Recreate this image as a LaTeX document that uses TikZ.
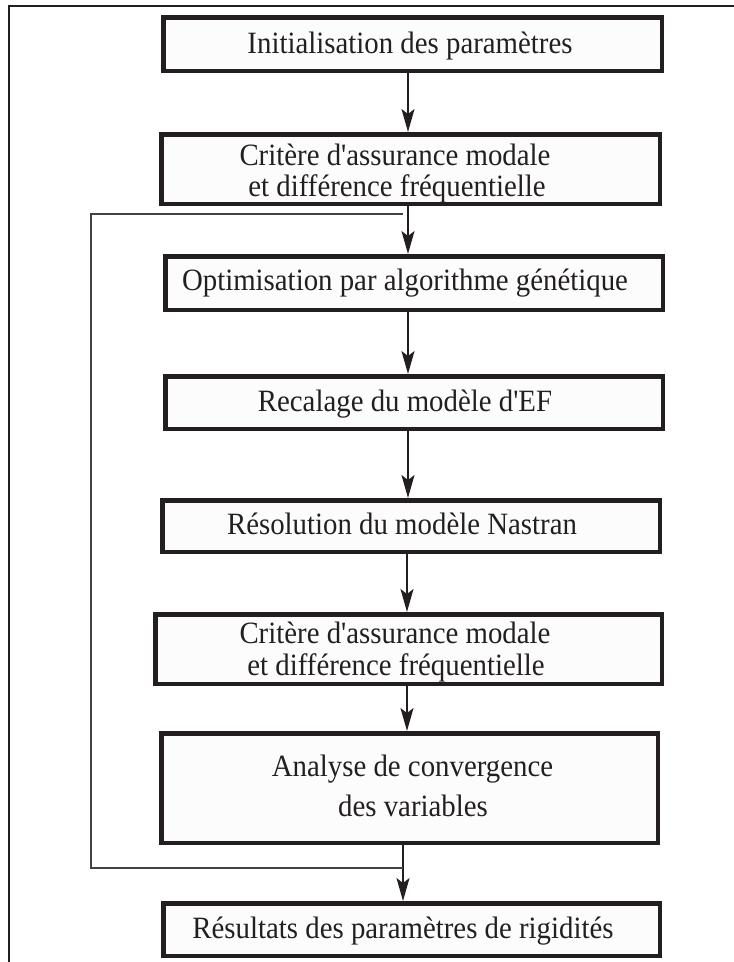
\documentclass[tikz,border=0pt]{standalone}
\usepackage{fontspec}
\setmainfont{Liberation Serif}[Ligatures=TeXOff, FakeStretch=0.93]
\usetikzlibrary{arrows.meta}
\definecolor{ink}{RGB}{35,31,32}
\definecolor{paper}{RGB}{252,252,252}
\begin{document}
\begin{tikzpicture}[x=1pt,y=-1pt,
  box/.style={draw=ink, line width=4.5pt, fill=paper, inner sep=0pt},
  txt/.style={anchor=base, inner sep=0pt, text=ink, font=\fontsize{31}{36}\selectfont},
  arr/.style={draw=ink, line width=1.4pt, -{Stealth[length=23pt, width=13pt, inset=5pt]}},
  loopline/.style={draw=ink!85, line width=1.4pt},
  frame/.style={draw=ink, line width=2pt}]
\useasboundingbox (0,0) rectangle (734,962);

% outer frame (top and left sides)
\coordinate (fo) at (9,962);
\coordinate (fc) at (9,6);
\coordinate (fe) at (734,6);
\draw[frame] (fo) -- (fc) -- (fe);

% process boxes
\node[box, minimum width=498.5pt, minimum height=53.5pt] (b1) at (412.5,44) {};
\node[box, minimum width=498.5pt, minimum height=69.5pt] (b2) at (410.5,169) {};
\node[box, minimum width=497.5pt, minimum height=53.5pt] (b3) at (414,283) {};
\node[box, minimum width=497.5pt, minimum height=52.5pt] (b4) at (414,402.5) {};
\node[box, minimum width=497.5pt, minimum height=51.5pt] (b5) at (411,526) {};
\node[box, minimum width=506.5pt, minimum height=69.5pt] (b6) at (408.5,649) {};
\node[box, minimum width=496.5pt, minimum height=109.5pt] (b7) at (409.5,788) {};
\node[box, minimum width=496.5pt, minimum height=52.5pt] (b8) at (411.5,929.5) {};

% labels
\node[txt] (t1) at (410,53) {Initialisation des paramètres};
\node[txt] (t2a) at (395,165) {Critère d'assurance modale};
\node[txt] (t2b) at (397,196) {et différence fréquentielle};
\node[txt] (t3) at (405,290) {Optimisation par algorithme génétique};
\node[txt] (t4) at (405,411) {Recalage du modèle d'EF};
\node[txt] (t5) at (402,534) {Résolution du modèle Nastran};
\node[txt] (t6a) at (395,643) {Critère d'assurance modale};
\node[txt] (t6b) at (396,675) {et différence fréquentielle};
\node[txt] (t7a) at (412.5,776) {Analyse de convergence};
\node[txt] (t7b) at (413,816) {des variables};
\node[txt] (t8) at (403,938) {Résultats des paramètres de rigidités};

% main flow
\coordinate (ax) at (408,0);
\coordinate (bx) at (407,0);
\draw[arr] (b1.south -| ax) -- (b2.north -| ax);
\draw[arr] (b2.south -| ax) -- (b3.north -| ax);
\draw[arr] (b3.south -| ax) -- (b4.north -| ax);
\draw[arr] (b4.south -| ax) -- (b5.north -| ax);
\draw[arr] (b5.south -| bx) -- (b6.north -| bx);
\draw[arr] (b6.south -| bx) -- (b7.north -| bx);

% feedback loop
\coordinate (j) at (403,868);
\coordinate (lc1) at (91,868);
\coordinate (lc2) at (91,214);
\coordinate (lt) at (403,214);
\draw[arr] (b7.south -| j) -- (b8.north -| j);
\draw[loopline] (j) -- (lc1) -- (lc2) -- (lt);
\end{tikzpicture}
\end{document}
